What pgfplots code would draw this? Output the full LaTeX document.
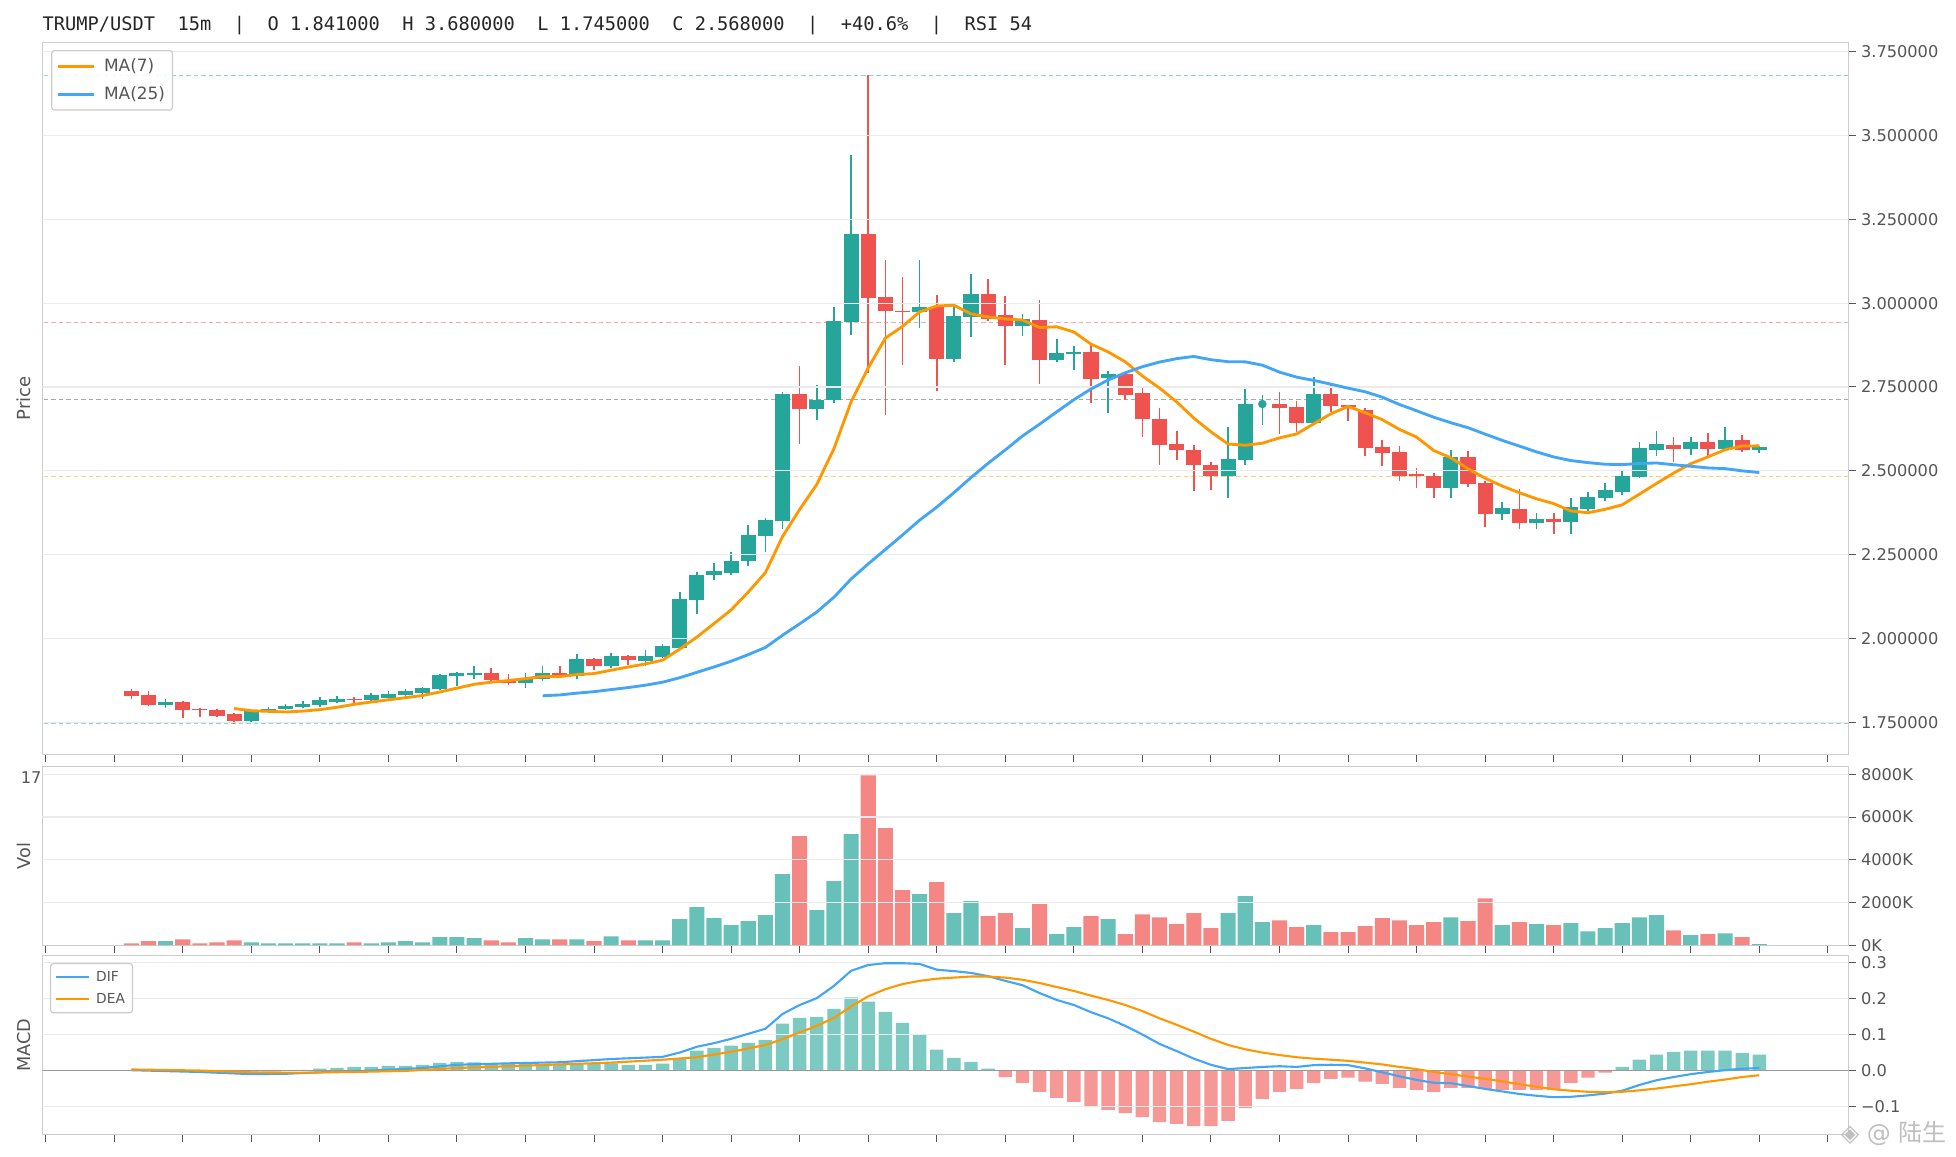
\documentclass[border=0pt]{standalone}
\usepackage{fontspec}
\setmainfont{DejaVu Sans}
\newfontfamily\monofont{DejaVu Sans Mono}
\newfontfamily\cjk{Noto Sans CJK SC}
\usepackage{pgfplots}
\usepackage{pgfplotstable}
\pgfplotsset{compat=1.18}

\definecolor{cg}{HTML}{26A69A}
\definecolor{cr}{HTML}{EF5350}
\definecolor{vg}{HTML}{67C1B8}
\definecolor{vr}{HTML}{F48784}
\definecolor{hg}{HTML}{7DCAC2}
\definecolor{hr}{HTML}{F59896}
\definecolor{maor}{HTML}{FF9800}
\definecolor{mabl}{HTML}{42A5F5}
\definecolor{gridc}{HTML}{EBEBEB}
\definecolor{boxc}{HTML}{CCCCCC}
\definecolor{txt}{HTML}{555555}
\definecolor{fibt}{HTML}{92D3CD}
\definecolor{fibr}{HTML}{F7A9A8}
\definecolor{fibg}{HTML}{AAAAAA}
\definecolor{fibo}{HTML}{FFCC80}
\definecolor{zeroc}{HTML}{999999}

% green candles: index open high low close
\pgfplotstableread{
i O H L C
2 1.801 1.818 1.793 1.811
7 1.754 1.783 1.748 1.782
8 1.782 1.794 1.778 1.788
9 1.789 1.804 1.785 1.798
10 1.795 1.812 1.792 1.805
11 1.801 1.824 1.796 1.816
12 1.810 1.827 1.806 1.818
14 1.816 1.836 1.813 1.830
15 1.823 1.842 1.817 1.833
16 1.832 1.849 1.826 1.843
17 1.836 1.855 1.819 1.851
18 1.848 1.893 1.845 1.890
19 1.888 1.900 1.859 1.897
20 1.890 1.919 1.878 1.896
23 1.867 1.896 1.852 1.883
24 1.878 1.917 1.872 1.896
26 1.888 1.952 1.878 1.937
28 1.917 1.955 1.911 1.946
30 1.932 1.964 1.917 1.946
31 1.944 1.982 1.942 1.976
32 1.970 2.138 1.966 2.117
33 2.115 2.199 2.073 2.190
34 2.188 2.226 2.173 2.200
35 2.194 2.257 2.188 2.230
36 2.230 2.338 2.215 2.307
37 2.305 2.359 2.257 2.353
38 2.351 2.736 2.326 2.729
40 2.685 2.756 2.650 2.711
41 2.711 2.987 2.701 2.947
42 2.944 3.442 2.905 3.207
46 2.972 3.129 2.927 2.989
48 2.834 2.990 2.825 2.962
49 2.960 3.087 2.900 3.027
52 2.932 2.968 2.903 2.952
54 2.831 2.893 2.825 2.850
55 2.849 2.872 2.799 2.853
57 2.778 2.798 2.673 2.789
64 2.485 2.631 2.418 2.536
65 2.533 2.744 2.518 2.700
69 2.643 2.780 2.643 2.730
77 2.449 2.563 2.418 2.542
80 2.370 2.408 2.354 2.390
82 2.345 2.375 2.327 2.357
84 2.348 2.420 2.310 2.392
85 2.385 2.437 2.380 2.422
86 2.420 2.462 2.411 2.442
87 2.437 2.502 2.429 2.484
88 2.482 2.585 2.479 2.568
89 2.562 2.618 2.544 2.580
91 2.565 2.600 2.547 2.585
93 2.565 2.630 2.565 2.591
95 2.562 2.574 2.553 2.571
}\gtab

% red candles
\pgfplotstableread{
i O H L C
0 1.842 1.850 1.819 1.828
1 1.830 1.842 1.797 1.801
3 1.809 1.812 1.763 1.787
4 1.788 1.793 1.766 1.785
5 1.786 1.789 1.766 1.769
6 1.774 1.778 1.745 1.754
13 1.818 1.825 1.806 1.815
21 1.897 1.913 1.869 1.875
22 1.877 1.893 1.861 1.867
25 1.896 1.918 1.887 1.889
27 1.937 1.941 1.907 1.917
29 1.946 1.951 1.921 1.934
39 2.729 2.813 2.581 2.685
43 3.207 3.680 2.791 3.016
44 3.018 3.129 2.667 2.975
45 2.977 3.078 2.814 2.972
47 2.987 3.024 2.739 2.834
50 3.027 3.072 2.947 2.952
51 2.964 3.021 2.814 2.932
53 2.950 3.009 2.759 2.831
56 2.854 2.877 2.703 2.774
58 2.789 2.790 2.711 2.726
59 2.731 2.750 2.600 2.654
60 2.655 2.687 2.518 2.578
61 2.580 2.619 2.533 2.561
62 2.562 2.577 2.440 2.516
63 2.518 2.525 2.443 2.485
67 2.700 2.735 2.611 2.688
68 2.690 2.708 2.617 2.643
70 2.730 2.758 2.674 2.693
71 2.697 2.697 2.647 2.690
72 2.682 2.686 2.545 2.568
73 2.571 2.592 2.515 2.554
74 2.557 2.574 2.470 2.485
75 2.491 2.509 2.447 2.483
76 2.485 2.492 2.418 2.449
78 2.542 2.560 2.452 2.461
79 2.464 2.470 2.333 2.370
81 2.387 2.446 2.327 2.345
83 2.357 2.375 2.310 2.348
90 2.577 2.600 2.527 2.565
92 2.585 2.612 2.544 2.565
94 2.591 2.606 2.556 2.562
}\rtab

% volume (K), green bars
\pgfplotstableread{
i v
2 190
7 140
8 90
9 90
10 90
11 90
12 90
14 90
15 140
16 190
17 140
18 375
19 375
20 330
23 330
24 280
26 280
28 420
30 230
31 230
32 1220
33 1780
34 1265
35 940
36 1125
37 1405
38 3330
40 1640
41 3000
42 5200
46 2390
48 1500
49 2060
52 800
54 515
55 845
57 1220
64 1500
65 2300
66 1080
69 940
77 1310
80 940
82 985
84 1030
85 655
86 800
87 1030
88 1310
89 1405
91 470
93 560
95 47
}\vgtab

% volume (K), red bars
\pgfplotstableread{
i v
0 90
1 190
3 280
4 90
5 140
6 230
13 140
21 230
22 140
25 280
27 190
29 230
39 5110
43 7958
44 5480
45 2580
47 2950
50 1360
51 1500
53 1920
56 1360
58 515
59 1450
60 1310
61 985
62 1500
63 800
67 1170
68 845
70 610
71 610
72 890
73 1265
74 1170
75 940
76 1080
78 1125
79 2200
81 1080
83 940
90 700
92 515
94 375
}\vrtab

% MACD histogram, positive
\pgfplotstableread{
i h
10 0.001
11 0.004
12 0.0065
13 0.009
14 0.009
15 0.012
16 0.012
17 0.015
18 0.020
19 0.023
20 0.022
21 0.019
22 0.017
23 0.017
24 0.017
25 0.018
26 0.018
27 0.017
28 0.019
29 0.015
30 0.015
31 0.018
32 0.031
33 0.054
34 0.062
35 0.068
36 0.076
37 0.084
38 0.129
39 0.145
40 0.148
41 0.170
42 0.202
43 0.190
44 0.162
45 0.131
46 0.099
47 0.057
48 0.034
49 0.023
50 0.004
87 0.009
88 0.029
89 0.043
90 0.051
91 0.054
92 0.054
93 0.054
94 0.048
95 0.043
}\hgtab

% MACD histogram, negative
\pgfplotstableread{
i h
2 -0.001
3 -0.002
4 -0.003
5 -0.004
6 -0.004
7 -0.004
8 -0.003
9 -0.002
51 -0.019
52 -0.035
53 -0.060
54 -0.077
55 -0.088
56 -0.100
57 -0.110
58 -0.119
59 -0.130
60 -0.144
61 -0.149
62 -0.155
63 -0.155
64 -0.141
65 -0.105
66 -0.080
67 -0.060
68 -0.052
69 -0.035
70 -0.024
71 -0.021
72 -0.032
73 -0.038
74 -0.049
75 -0.055
76 -0.060
77 -0.049
78 -0.049
79 -0.052
80 -0.055
81 -0.055
82 -0.055
83 -0.055
84 -0.035
85 -0.021
86 -0.007
}\hrtab

\pgfplotsset{
  panel/.style={
    scale only axis, width=1203.9pt,
    xmin=-5.19, xmax=100.19,
    axis line style={boxc, line width=0.8pt},
    tick align=outside, xtick pos=bottom, ytick pos=right, yticklabel pos=right,
    xtick={-5,-1,...,99}, xticklabels={},
    major tick length=5pt,
    every tick/.style={txt, line width=0.6pt},
    tick label style={font=\fontsize{10.8}{12}\selectfont, text=txt},
    scaled y ticks=false, scaled x ticks=false,
    legend cell align=left,
  },
  fib/.style={#1, line width=0.7pt, dash pattern=on 3pt off 2pt, forget plot},
  gridl/.style={gridc, line width=0.8pt, forget plot},
}

\begin{document}
\begin{tikzpicture}
\useasboundingbox (0pt,0pt) rectangle (1304pt,770.67pt);
\fill[white] (0pt,0pt) rectangle (1304pt,770.67pt);

% ---------------- price panel ----------------
\begin{axis}[panel, at={(28.27pt,267.5pt)}, anchor=south west, height=474.9pt,
  ymin=1.6528, ymax=3.7777,
  ytick={1.75,2,2.25,2.5,2.75,3,3.25,3.5,3.75},
  yticklabels={1.750000,2.000000,2.250000,2.500000,2.750000,3.000000,3.250000,3.500000,3.750000},
  legend style={at={(0.0048,0.9893)}, anchor=north west, draw=boxc, line width=0.8pt,
    rounded corners=2pt, fill=white, fill opacity=0.85, draw opacity=1, text opacity=1,
    font=\fontsize{11.3}{13}\selectfont, text=txt, inner xsep=3pt, inner ysep=3.5pt,
    row sep=4.5pt},
  legend image code/.code={\draw[#1] (0pt,0pt) -- (24pt,0pt); \path (28pt,0pt);},
]
\addplot[fib=fibt] coordinates {(-6,3.68) (101,3.68)};
\addplot[fib=fibr] coordinates {(-6,2.941) (101,2.941)};
\addplot[fib=fibg] coordinates {(-6,2.7125) (101,2.7125)};
\addplot[fib=fibo] coordinates {(-6,2.484) (101,2.484)};
\addplot[fib=fibt] coordinates {(-6,1.745) (101,1.745)};
% wicks
\addplot[cg, line width=1.1pt, forget plot, quiver={u=0, v=\thisrow{H}-\thisrow{L}}] table[x=i, y=L] {\gtab};
\addplot[cr, line width=1.1pt, forget plot, quiver={u=0, v=\thisrow{H}-\thisrow{L}}] table[x=i, y=L] {\rtab};
\addplot[cg, line width=1.1pt, forget plot] coordinates {(66,2.637) (66,2.726)};
% bodies
\addplot[cg, line width=10.05pt, forget plot, quiver={u=0, v=\thisrow{C}-\thisrow{O}}] table[x=i, y=O] {\gtab};
\addplot[cr, line width=10.05pt, forget plot, quiver={u=0, v=\thisrow{C}-\thisrow{O}}] table[x=i, y=O] {\rtab};
\addplot[cg, only marks, mark=*, mark size=2.6pt, forget plot] coordinates {(66,2.699)};
% grid
\pgfplotsinvokeforeach{1.75,2.0,2.25,2.5,2.75,3.0,3.25,3.5,3.75}{
  \addplot[gridl] coordinates {(-6,#1) (101,#1)};
}
% moving averages
\addplot[maor, line width=1.9pt] coordinates {
(6,1.7907) (7,1.7841) (8,1.7823) (9,1.7804) (10,1.7830) (11,1.7874) (12,1.7944) (13,1.8033)
(14,1.8101) (15,1.8166) (16,1.8230) (17,1.8296) (18,1.8401) (19,1.8514) (20,1.8629) (21,1.8693)
(22,1.8741) (23,1.8799) (24,1.8863) (25,1.8861) (26,1.8919) (27,1.8949) (28,1.9050) (29,1.9146)
(30,1.9236) (31,1.9350) (32,1.9677) (33,2.0037) (34,2.0441) (35,2.0847) (36,2.1381) (37,2.1961)
(38,2.3036) (39,2.3846) (40,2.4591) (41,2.5659) (42,2.7054) (43,2.8066) (44,2.8956) (45,2.9304)
(46,2.9739) (47,2.9914) (48,2.9936) (49,2.9679) (50,2.9587) (51,2.9526) (52,2.9497) (53,2.9271)
(54,2.9294) (55,2.9139) (56,2.8777) (57,2.8544) (58,2.8250) (59,2.7827) (60,2.7466) (61,2.7053)
(62,2.6571) (63,2.6159) (64,2.5797) (65,2.5760) (66,2.5821) (67,2.5979) (68,2.6096) (69,2.6401)
(70,2.6699) (71,2.6919) (72,2.6730) (73,2.6523) (74,2.6233) (75,2.6004) (76,2.5603) (77,2.5387)
(78,2.5060) (79,2.4777) (80,2.4543) (81,2.4343) (82,2.4163) (83,2.4019) (84,2.3801) (85,2.3746)
(86,2.3849) (87,2.3983) (88,2.4301) (89,2.4620) (90,2.4930) (91,2.5209) (92,2.5413) (93,2.5626)
(94,2.5737) (95,2.5741)};
\addlegendentry{MA(7)}
\addplot[mabl, line width=1.9pt] coordinates {
(24,1.8288) (25,1.8312) (26,1.8366) (27,1.8409) (28,1.8472) (29,1.8532) (30,1.8603) (31,1.8692)
(32,1.8826) (33,1.8986) (34,1.9147) (35,1.9317) (36,1.9514) (37,1.9728) (38,2.0092) (39,2.0434)
(40,2.0786) (41,2.1227) (42,2.1770) (43,2.2220) (44,2.2651) (45,2.3082) (46,2.3527) (47,2.3914)
(48,2.4346) (49,2.4798) (50,2.5223) (51,2.5621) (52,2.6035) (53,2.6389) (54,2.6756) (55,2.7118)
(56,2.7438) (57,2.7706) (58,2.7921) (59,2.8103) (60,2.8242) (61,2.8344) (62,2.8409) (63,2.8312)
(64,2.8252) (65,2.8248) (66,2.8149) (67,2.7941) (68,2.7792) (69,2.7694) (70,2.7582) (71,2.7463)
(72,2.7356) (73,2.7193) (74,2.6976) (75,2.6789) (76,2.6596) (77,2.6432) (78,2.6284) (79,2.6092)
(80,2.5906) (81,2.5735) (82,2.5562) (83,2.5411) (84,2.5304) (85,2.5242) (86,2.5194) (87,2.5182)
(88,2.5215) (89,2.5232) (90,2.5178) (91,2.5133) (92,2.5084) (93,2.5063) (94,2.4996) (95,2.4947)};
\addlegendentry{MA(25)}
\end{axis}

% ---------------- volume panel ----------------
\begin{axis}[panel, at={(28.27pt,140.5pt)}, anchor=south west, height=119pt,
  ymin=0, ymax=8356,
  ytick={0,2000,4000,6000,8000},
  yticklabels={0K,2000K,4000K,6000K,8000K},
]
\addplot[ybar, bar width=0.88, bar shift=0pt, fill=vg, draw=none, forget plot] table[x=i, y=v] {\vgtab};
\addplot[ybar, bar width=0.88, bar shift=0pt, fill=vr, draw=none, forget plot] table[x=i, y=v] {\vrtab};
\pgfplotsinvokeforeach{2000,4000,6000,8000}{
  \addplot[gridl] coordinates {(-6,#1) (101,#1)};
}
\end{axis}

% ---------------- MACD panel ----------------
\begin{axis}[panel, at={(28.27pt,14.47pt)}, anchor=south west, height=119.1pt,
  ymin=-0.178, ymax=0.318,
  ytick={-0.1,0,0.1,0.2,0.3},
  yticklabels={−0.1,0.0,0.1,0.2,0.3},
  legend style={at={(0.0042,0.9597)}, anchor=north west, draw=boxc, line width=0.8pt,
    rounded corners=2pt, fill=white, fill opacity=0.85, draw opacity=1, text opacity=1,
    font=\fontsize{9.2}{10}\selectfont, text=txt, inner xsep=3pt, inner ysep=3pt,
    row sep=2.5pt},
  legend image code/.code={\draw[#1] (0pt,0pt) -- (22pt,0pt); \path (24pt,0pt);},
]
\addplot[ybar, bar width=0.78, bar shift=0pt, fill=hg, draw=none, forget plot] table[x=i, y=h] {\hgtab};
\addplot[ybar, bar width=0.78, bar shift=0pt, fill=hr, draw=none, forget plot] table[x=i, y=h] {\hrtab};
\pgfplotsinvokeforeach{-0.1,0.1,0.2,0.3}{
  \addplot[gridl] coordinates {(-6,#1) (101,#1)};
}
\addplot[zeroc, line width=0.9pt, forget plot] coordinates {(-6,0) (101,0)};
\addplot[mabl, line width=1.4pt] coordinates {
(0,0) (4,-0.005) (7,-0.011) (9,-0.010) (11,-0.006) (14,-0.001) (17,0.006) (19,0.015)
(22,0.019) (25,0.022) (28,0.031) (31,0.037) (32,0.049) (33,0.065) (34,0.075) (35,0.087)
(36,0.101) (37,0.115) (38,0.156) (39,0.181) (40,0.200) (41,0.234) (42,0.276) (43,0.292)
(44,0.297) (45,0.297) (46,0.295) (47,0.279) (48,0.275) (49,0.270) (50,0.261) (51,0.248)
(52,0.236) (53,0.214) (54,0.195) (55,0.181) (56,0.161) (57,0.144) (58,0.123) (59,0.099)
(60,0.073) (61,0.053) (62,0.032) (63,0.015) (64,0.003) (65,0.006) (66,0.009) (67,0.011)
(68,0.009) (69,0.014) (70,0.015) (71,0.014) (72,0.005) (73,-0.006) (74,-0.017) (75,-0.027)
(76,-0.035) (77,-0.036) (78,-0.044) (79,-0.052) (80,-0.059) (81,-0.066) (82,-0.071) (83,-0.075)
(84,-0.074) (85,-0.070) (86,-0.065) (87,-0.057) (88,-0.041) (89,-0.028) (90,-0.019) (91,-0.011)
(92,-0.005) (93,0.000) (94,0.004) (95,0.006)};
\addlegendentry{DIF}
\addplot[maor, line width=1.4pt] coordinates {
(0,0.002) (4,-0.001) (7,-0.006) (10,-0.007) (13,-0.005) (16,-0.002) (19,0.006) (22,0.011)
(25,0.016) (28,0.021) (31,0.029) (33,0.036) (35,0.051) (37,0.070) (38,0.086) (39,0.105)
(40,0.123) (41,0.145) (42,0.177) (43,0.205) (44,0.225) (45,0.239) (46,0.248) (47,0.254)
(48,0.257) (49,0.260) (50,0.260) (51,0.257) (52,0.251) (53,0.242) (54,0.231) (55,0.220)
(56,0.207) (57,0.195) (58,0.181) (59,0.164) (60,0.144) (61,0.126) (62,0.107) (63,0.087)
(64,0.070) (65,0.058) (66,0.049) (67,0.042) (68,0.036) (69,0.032) (70,0.029) (71,0.026)
(72,0.021) (73,0.016) (74,0.009) (75,0.003) (76,-0.005) (77,-0.011) (78,-0.018) (79,-0.024)
(80,-0.031) (81,-0.039) (82,-0.046) (83,-0.053) (84,-0.057) (85,-0.060) (86,-0.061) (87,-0.060)
(88,-0.056) (89,-0.051) (90,-0.045) (91,-0.039) (92,-0.032) (93,-0.026) (94,-0.019) (95,-0.014)};
\addlegendentry{DEA}
\end{axis}

% ---------------- texts ----------------
\node[anchor=base west, inner sep=0pt, text=black!85, font=\monofont\fontsize{12.45}{14}\selectfont]
  at (28.27pt,750pt) {TRUMP/USDT~~15m~~|~~O~1.841000~~H~3.680000~~L~1.745000~~C~2.568000~~|~~+40.6\%~~|~~RSI~54};
\node[rotate=90, anchor=base, inner sep=0pt, text=txt, font=\fontsize{12}{14}\selectfont] at (20.4pt,505pt) {Price};
\node[rotate=90, anchor=base, inner sep=0pt, text=txt, font=\fontsize{11.8}{14}\selectfont] at (20.4pt,200pt) {Vol};
\node[rotate=90, anchor=base, inner sep=0pt, text=txt, font=\fontsize{11.8}{14}\selectfont] at (20.4pt,74pt) {MACD};
\node[anchor=east, inner sep=0pt, text=txt, font=\fontsize{10.8}{12}\selectfont] at (27.8pt,252pt) {17};
\node[anchor=base west, inner sep=0pt, text=black!25, font=\fontsize{16}{18}\selectfont] at (1227pt,9.5pt) {◈ @ {\cjk 陆生}};
\end{tikzpicture}
\end{document}
